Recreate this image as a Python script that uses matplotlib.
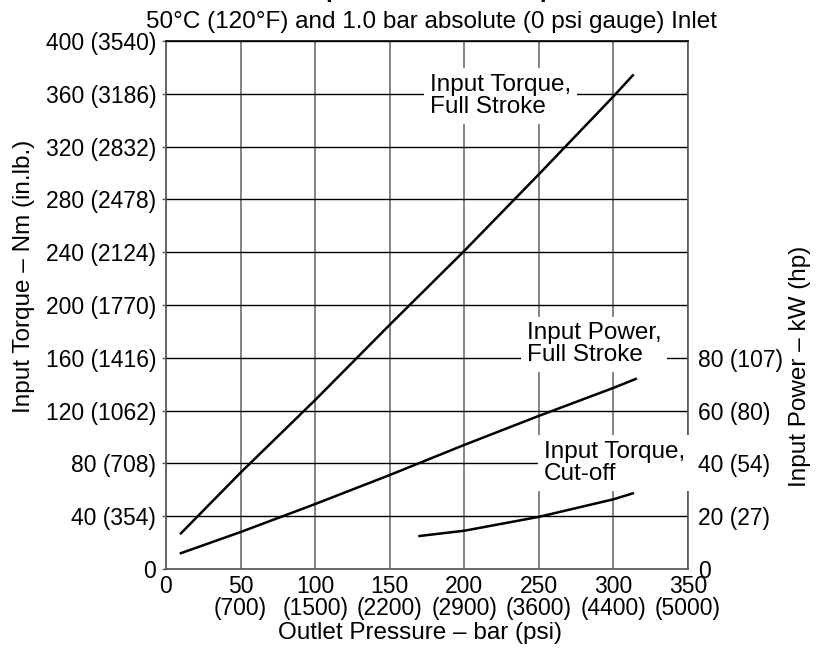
import matplotlib.pyplot as plt
import numpy as np

plt.rcParams['font.family'] = ['Liberation Sans', 'DejaVu Sans']

# outlet pressure (bar) and the three curves
torque_full_bar = [10, 50, 100, 150, 200, 250, 300, 313]
torque_full_nm = [27, 73, 128, 185, 241, 299, 358, 374]

power_full_bar = [10, 50, 100, 150, 200, 250, 300, 315]
power_full_kw = [6, 14, 24.6, 35.6, 47, 58, 68.6, 72]

torque_cut_bar = [170, 200, 250, 300, 313]
torque_cut_nm = [25, 29, 39.5, 52.8, 57.3]

# axis ticks
x_ticks = [0, 50, 100, 150, 200, 250, 300, 350]
x_labels = ['0', '50\n(700)', '100\n(1500)', '150\n(2200)', '200\n(2900)',
            '250\n(3600)', '300\n(4400)', '350\n(5000)']
y_ticks = [0, 40, 80, 120, 160, 200, 240, 280, 320, 360, 400]
y_labels = ['0', '40 (354)', '80 (708)', '120 (1062)', '160 (1416)', '200 (1770)',
            '240 (2124)', '280 (2478)', '320 (2832)', '360 (3186)', '400 (3540)']
kw_ticks = [0, 20, 40, 60, 80]
kw_labels = ['0', '20 (27)', '40 (54)', '60 (80)', '80 (107)']

TICK_FS = 16.5
FS = 17.5

fig = plt.figure(figsize=(8.24, 6.49), dpi=100)
ax = fig.add_axes([166 / 824, 1 - 569 / 649, 522 / 824, 528 / 649])

ax.set_xlim(0, 350)
ax.set_ylim(0, 400)
ax.set_xticks(x_ticks)
ax.set_xticklabels(x_labels, fontsize=TICK_FS, linespacing=0.95)
ax.set_yticks(y_ticks)
ax.set_yticklabels(y_labels, fontsize=TICK_FS)
ax.tick_params(axis='y', length=3, width=1, color='#555555', pad=4)
ax.tick_params(axis='x', length=0, pad=4)

ax.set_axisbelow(True)
ax.xaxis.grid(True, color='#6e6e6e', lw=1.2)
ax.yaxis.grid(True, color='black', lw=1.0)
for s in ax.spines.values():
    s.set_color('#555555')
    s.set_linewidth(1.2)
ax.spines['top'].set_color('black')

ax.set_xlabel('Outlet Pressure – bar (psi)', fontsize=FS)
ax.xaxis.set_label_coords(0.487, -0.10)
ax.set_ylabel('Input Torque – Nm (in.lb.)', fontsize=FS, va='center')
ax.yaxis.set_label_coords(-0.272, 0.555)

# power uses the right-hand scale (kW), 1 kW per 2 Nm of the left scale
ax2 = ax.twinx()
ax2.set_ylim(0, 200)
ax2.set_yticks(kw_ticks)
ax2.set_yticklabels(kw_labels, fontsize=TICK_FS)
ax2.tick_params(length=0, pad=7)
for s in ax2.spines.values():
    s.set_visible(False)
ax2.set_ylabel('Input Power – kW (hp)', fontsize=FS, va='center')
ax2.yaxis.set_label_coords(1.215, 0.384)

ax.plot(torque_full_bar, torque_full_nm, color='black', lw=1.8)
ax.plot(torque_cut_bar, torque_cut_nm, color='black', lw=1.8)
ax2.plot(power_full_bar, power_full_kw, color='black', lw=1.8)

box = dict(facecolor='white', edgecolor='none', pad=4)
ax.text(177, 375, 'Input Torque,\nFull Stroke', fontsize=FS, va='top', ha='left',
        linespacing=1.0, bbox=box, zorder=3)
ax.text(242, 187, 'Input Power,\nFull Stroke', fontsize=FS, va='top', ha='left',
        linespacing=1.0, bbox=box, zorder=3)
ax.text(253.5, 97, 'Input Torque,\nCut-off', fontsize=FS, va='top', ha='left',
        linespacing=1.0, bbox=box, zorder=3)

fig.text(432 / 824, 1 - 22 / 649, '50°C (120°F) and 1.0 bar absolute (0 psi gauge) Inlet',
         fontsize=FS, ha='center', va='center')
# main title sits mostly above the top edge of the page
fig.text(305 / 824, 1 + 3 / 649, 'Input Power and Torque', fontsize=17,
         fontweight='bold', ha='left', va='baseline')

fig.savefig('out.png', dpi=100)
